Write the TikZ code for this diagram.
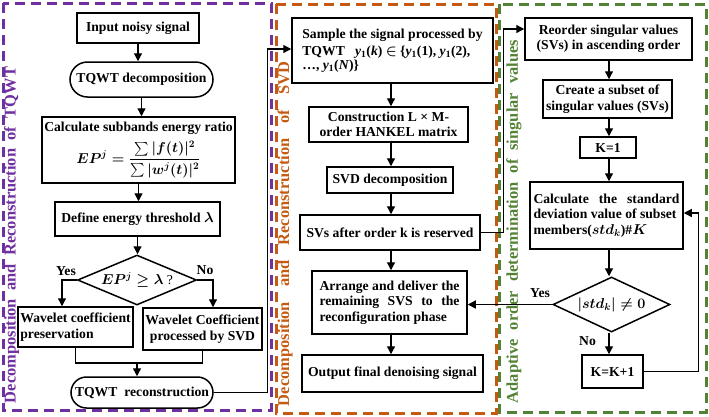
\documentclass[tikz,border=0pt]{standalone}
\usepackage{amsmath,amssymb}
\usepackage{fontspec}
\setmainfont{Liberation Serif}
\usetikzlibrary{shapes.geometric,shapes.misc,arrows.meta,calc}
\definecolor{cpurple}{RGB}{112,48,160}
\definecolor{corange}{RGB}{197,90,17}
\definecolor{cgreen}{RGB}{84,130,53}
\newcommand\yone{\textit{y}\textsubscript{1}}
\tikzset{
 bfont/.style={font=\fontsize{13.7}{15.5}\selectfont\bfseries\boldmath},
 procbox/.style={draw, line width=1.5bp, fill=white, rectangle, inner sep=0pt, bfont, align=center},
 termbox/.style={procbox, rounded rectangle},
 decbox/.style={draw, line width=1.5bp, fill=white, diamond, inner sep=0pt, bfont, align=center},
 conn/.style={line width=1.3bp, -{Triangle[length=8bp,width=8bp]}},
 plainline/.style={line width=1.3bp},
 frame/.style={line width=3bp, dash pattern=on 10bp off 6bp},
 sidelabel/.style={rotate=90, font=\fontsize{16.5}{18}\selectfont\bfseries, inner sep=0pt},
 lbl/.style={bfont, inner sep=0pt}
}
\begin{document}
\begin{tikzpicture}[x=1bp,y=-1bp]
\useasboundingbox (0,0) rectangle (709,416);
% frames
\draw[frame, cpurple] (3,3) rectangle (271,410);
\draw[frame, corange] (276,4) rectangle (496,413);
\draw[frame, cgreen] (499,4) rectangle (706,412);
% side labels
\node[sidelabel, text=cpurple] (lp) at (11.5,235) {\makebox[336bp][s]{Decomposition and Reconstruction of TQWT}};
\node[sidelabel, text=corange] (lo) at (285,234) {\makebox[344bp][s]{Decomposition and Reconstruction of SVD}};
\node[sidelabel, text=cgreen] (lg) at (514,221.5) {\makebox[363bp][s]{Adaptive order determination of singular values}};
% left column
\node[procbox, minimum width=122bp, minimum height=30bp] (in) at (138,28) {Input noisy signal};
\node[termbox, minimum width=143bp, minimum height=35bp] (tqd) at (141.5,79.5) {TQWT decomposition};
\node[procbox, minimum width=193bp, minimum height=66bp] (cal) at (138.5,150) {Calculate subbands energy ratio\\[5bp] $\displaystyle EP^{j}=\frac{\sum|f(t)|^2}{\sum|w^{j}(t)|^2}$};
\node[procbox, minimum width=165bp, minimum height=34bp] (thr) at (137.5,219) {Define energy threshold $\lambda$};
\node[decbox, aspect=2.4, minimum width=119bp, minimum height=50bp] (d1) at (137,280) {$EP^{j}\geq\lambda$ {\mdseries ?}};
\node[procbox, minimum width=115bp, minimum height=40bp, align=left] (wp) at (75.5,327) {Wavelet coefficient\\preservation};
\node[procbox, minimum width=119bp, minimum height=42bp] (ws) at (202.5,329) {Wavelet Coefficient\\processed by SVD};
\node[termbox, minimum width=142bp, minimum height=31bp] (tqr) at (142,392.5) {TQWT\ \ reconstruction};
% middle column
\node[procbox, minimum width=201bp, minimum height=65bp, align=left] (smp) at (392.5,50.5) {Sample the signal processed by\\[1.5bp]TQWT\ \ \ \yone(\textit{k})\ $\in$\ \{\yone(1),\ \yone(2),\\[-1bp]…,\ \yone(\textit{N})\}};
\node[procbox, minimum width=159bp, minimum height=35bp] (con) at (388.5,124.5) {Construction L × M-\\order HANKEL matrix};
\node[procbox, minimum width=126bp, minimum height=26bp] (svd) at (390,180) {SVD decomposition};
\node[procbox, minimum width=180bp, minimum height=35bp] (svs) at (390,232.5) {SVs after order k is reserved};
\node[procbox, minimum width=155bp, minimum height=63bp, align=left] (arr) at (389.5,302.5) {\makebox[140bp][s]{Arrange and deliver the}\\\makebox[140bp][s]{remaining SVS to the}\\reconfiguration phase};
\node[procbox, minimum width=181bp, minimum height=37bp] (out) at (392.5,373.5) {Output final denoising signal};
% right column
\node[procbox, minimum width=167bp, minimum height=42bp] (reo) at (608.5,39) {Reorder singular values\\(SVs) in ascending order};
\node[procbox, minimum width=129bp, minimum height=38bp] (sub) at (607.5,99) {Create a subset of\\singular values (SVs)};
\node[procbox, minimum width=56bp, minimum height=21bp] (k1) at (608,147.5) {K=1};
\node[procbox, minimum width=153bp, minimum height=67bp, align=left] (std) at (606.5,215.5) {\makebox[146bp][s]{Calculate the standard}\\deviation value of subset\\members($std_k$)\#$K$};
\node[decbox, aspect=2.1, minimum width=117bp, minimum height=55bp] (d2) at (611.5,304.5) {$|std_k|\neq0$};
\node[procbox, minimum width=61bp, minimum height=33bp] (kk) at (612.5,371.5) {K=K+1};
% labels
\node[lbl] (yes1) at (66,271) {Yes};
\node[lbl] (no1) at (205,270) {No};
\node[lbl] (yes2) at (540,293) {Yes};
\node[lbl] (no2) at (587.5,341) {No};
% helper coordinates
\coordinate (mx) at (391,0);
\coordinate (rx) at (609,0);
\coordinate (mrg) at (137,363);
% left connectors
\draw[conn] (in.south) -- (in.south |- tqd.north);
\draw[conn] (tqd.south) -- (tqd.south |- cal.north);
\draw[conn] (cal.south) -- (cal.south |- thr.north);
\draw[conn] (thr.south) -- (thr.south |- d1.north);
\draw[conn] (d1.west) -| ($(wp.north)+(-13.5,0)$);
\draw[conn] (d1.east) -| ($(ws.north)+(10.5,0)$);
\draw[plainline] (wp.south) |- (mrg) -| (ws.south);
\draw[conn] (mrg) -- (mrg |- tqr.north);
\draw[conn] (tqr.east) -- ++(54,0) |- ($(smp.west)+(0,-1.5)$);
% middle connectors
\draw[conn] (smp.south -| mx) -- (con.north -| mx);
\draw[conn] (con.south -| mx) -- (svd.north -| mx);
\draw[conn] (svd.south -| mx) -- (svs.north -| mx);
\draw[conn] (svs.south -| mx) -- (arr.north -| mx);
\draw[conn] (arr.south -| mx) -- (out.north -| mx);
\draw[conn] (svs.east) -- ++(23,0) |- ($(reo.west)+(0,-10)$);
% right connectors
\draw[conn] (reo.south -| rx) -- (sub.north -| rx);
\draw[conn] (sub.south -| rx) -- (k1.north -| rx);
\draw[conn] (k1.south -| rx) -- (std.north -| rx);
\draw[conn] (std.south -| rx) -- (d2.north -| rx);
\draw[conn] (d2.south -| rx) -- (kk.north -| rx);
\draw[conn] (d2.west) -- (d2.west -| arr.east);
\draw[conn] (kk.east) -- ++(54.5,0) |- ($(std.east)+(0,-2.5)$);
\end{tikzpicture}
\end{document}
